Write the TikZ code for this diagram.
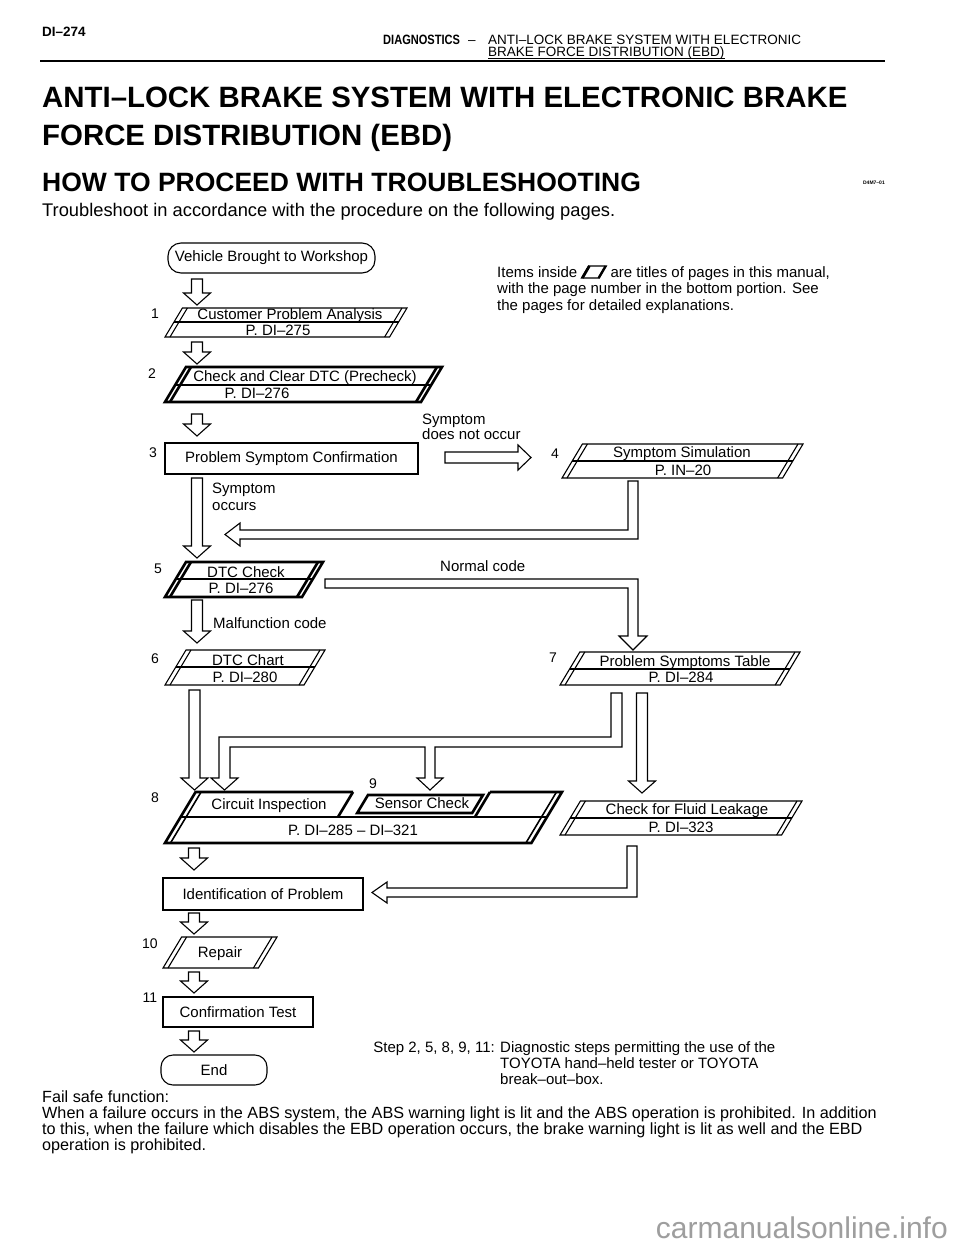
\documentclass[tikz,border=0pt]{standalone}
\usepackage{fontspec}
\usepackage{graphicx}
\setmainfont{Liberation Sans}
\usetikzlibrary{calc}
\newcommand\myfs[1]{\fontsize{#1}{#1}\selectfont}
% parallelogram: style, xl (bottom-left x), xr (top-right x), ytop, ybot
\newcommand\parabox[5]{%
  \pgfmathsetmacro\mysl{0.6*(#5-#4)}%
  \draw[#1] (#2,#5) -- ({#2+\mysl},#4) -- (#3,#4) -- ({#3-\mysl},#5) -- cycle;
  \draw[#1] ({#2+5},#5) -- ({#2+\mysl+5},#4);
  \draw[#1] ({#3-5},#4) -- ({#3-\mysl-5},#5);
}
% middle line: style, xl, xr, ytop, ybot, ymid
\newcommand\paramid[6]{%
  \draw[#1] ({#2+0.6*(#5-#6)},#6) -- ({#3-0.6*(#6-#4)},#6);
}
% hollow down arrow: x, ytop, ytip
\newcommand\dnarr[3]{%
  \draw[harrow] ({#1-5.5},#2) -- ({#1+5.5},#2) -- ({#1+5.5},{#3-12}) -- ({#1+13.5},{#3-12})
    -- (#1,#3) -- ({#1-13.5},{#3-12}) -- ({#1-5.5},{#3-12}) -- cycle;
}
\begin{document}
\begin{tikzpicture}[x=1pt,y=-1pt,
  txt/.style={inner sep=0pt, anchor=base, font=\myfs{15}},
  ltxt/.style={inner sep=0pt, anchor=base west, font=\myfs{15}},
  num/.style={inner sep=0pt, anchor=base, font=\myfs{14}},
  thinln/.style={line width=1.1pt},
  thickln/.style={line width=2.6pt},
  harrow/.style={line width=1.1pt, line join=miter},
  rbox/.style={draw, thinln, inner sep=0pt, font=\myfs{15}},
]
\fill[white] (0,0) rectangle (960,1250);
\useasboundingbox (0,0) rectangle (960,1250);

% ---------- header ----------
\node[ltxt, font=\myfs{13.5}\bfseries] (pg) at (42,36) {DI–274};
\node[ltxt, font=\myfs{13.5}\bfseries] (hdA) at (383,44) {\scalebox{0.82}[1]{DIAGNOSTICS}};
\node[ltxt, font=\myfs{13.5}] (hdD) at (468,44) {–};
\node[ltxt, font=\myfs{13.5}] (hdB) at (488,44) {ANTI–LOCK BRAKE SYSTEM WITH ELECTRONIC};
\node[ltxt, font=\myfs{13.5}] (hdC) at (488,56) {BRAKE FORCE DISTRIBUTION (EBD)};
\draw[line width=0.8pt] ([yshift=-2pt]hdC.base west) -- ([yshift=-2pt]hdC.base east);
\draw[line width=2.5pt] (40,61) -- (885,61);

\node[ltxt, font=\myfs{29.4}\bfseries] (t1) at (42,107) {ANTI–LOCK BRAKE SYSTEM WITH ELECTRONIC BRAKE};
\node[ltxt, font=\myfs{29.4}\bfseries] (t2) at (42,145) {FORCE DISTRIBUTION (EBD)};
\node[ltxt, font=\myfs{26.5}\bfseries] (t3) at (42,191) {HOW TO PROCEED WITH TROUBLESHOOTING};
\node[ltxt, font=\myfs{18.3}] (t4) at (42,216) {Troubleshoot in accordance with the procedure on the following pages.};
\node[inner sep=0pt, anchor=base east, font=\myfs{5}\bfseries] (code) at (885,184) {D4M7–01};

% ---------- note ----------
\node[ltxt] (it1) at (497,277) {Items inside};
\begin{scope}[shift={(it1.base east)}]
  \draw[thinln] (4,1) -- (11,-11) -- (29,-11) -- (22,1) -- cycle;
  \draw[line width=2.6pt] (5,1) -- (12,-11);
  \draw[line width=2pt] (28,-11) -- (21,1);
\end{scope}
\node[ltxt] (it1b) at ([xshift=33pt]it1.base east) {are titles of pages in this manual,};
\node[ltxt] (it2) at (497,293) {with the page number in the bottom portion. See};
\node[ltxt] (it3) at (497,310) {the pages for detailed explanations.};

% ---------- flow ----------
\node[rbox, rounded corners=13pt, minimum width=207pt, minimum height=30pt] (veh) at (271.5,258) {Vehicle Brought to Workshop};
\dnarr{197}{279}{305}

\node[num] (n1) at (155,318) {1};
\parabox{thinln}{165}{407}{308}{337}
\paramid{thinln}{165}{407}{308}{337}{322}
\node[txt] (b1a) at (290,319) {Customer Problem Analysis};
\node[txt] (b1b) at (278,335) {P. DI–275};
\dnarr{197}{342}{364}

\node[num] (n2) at (152,378) {2};
\parabox{thickln}{165}{442}{367}{402}
\paramid{thickln}{165}{442}{367}{402}{385}
\node[txt] (b2a) at (305,381) {Check and Clear DTC (Precheck)};
\node[txt] (b2b) at (257,398) {P. DI–276};
\dnarr{197}{414}{436}
\node[ltxt] (sn1) at (422,424) {Symptom};
\node[ltxt] (sn2) at (422,439) {does not occur};

\node[num] (n3) at (153,457) {3};
\node[rbox, minimum width=253pt, minimum height=31pt] (b3) at (291.5,458.5) {Problem Symptom Confirmation};
\draw[harrow] (445,452) -- (518,452) -- (518,445) -- (531,457.5) -- (518,470) -- (518,463) -- (445,463) -- cycle;

\node[num] (n4) at (555,458) {4};
\parabox{thinln}{562}{803}{444}{478}
\paramid{thinln}{562}{803}{444}{478}{461}
\node[txt] (b4a) at (682,457) {Symptom Simulation};
\node[txt] (b4b) at (683,475) {P. IN–20};

\dnarr{197}{478}{558}
\node[ltxt] (so1) at (212,493) {Symptom};
\node[ltxt] (so2) at (212,510) {occurs};
\draw[harrow] (628,481) -- (638,481) -- (638,539) -- (240,539) -- (240,546) -- (225,534.5)
  -- (240,523) -- (240,530) -- (628,530) -- cycle;

\node[num] (n5) at (158,573) {5};
\parabox{thickln}{165}{323}{562}{597}
\paramid{thickln}{165}{323}{562}{597}{579}
\node[txt] (b5a) at (246,577) {DTC Check};
\node[txt] (b5b) at (241,593) {P. DI–276};
\node[ltxt] (nc) at (440,571) {Normal code};
\draw[harrow] (325,579) -- (638,579) -- (638,636) -- (647,636) -- (633,650) -- (619,636)
  -- (628,636) -- (628,588) -- (325,588) -- cycle;

\dnarr{197}{600}{643}
\node[ltxt] (mc) at (213,628) {Malfunction code};

\node[num] (n6) at (155,663) {6};
\parabox{thinln}{165}{325}{650}{685}
\paramid{thinln}{165}{325}{650}{685}{667}
\node[txt] (b6a) at (248,665) {DTC Chart};
\node[txt] (b6b) at (245,682) {P. DI–280};

\node[num] (n7) at (553,662) {7};
\parabox{thinln}{560}{800}{652}{685}
\paramid{thinln}{560}{800}{652}{685}{669}
\node[txt] (b7a) at (685,666) {Problem Symptoms Table};
\node[txt] (b7b) at (681,682) {P. DI–284};

\dnarr{194.5}{690}{790}
\draw[harrow] (611,693) -- (622,693) -- (622,747) -- (435,747) -- (435,778) -- (443,778)
  -- (430,790) -- (417,778) -- (425,778) -- (425,747) -- (230,747) -- (230,778)
  -- (238,778) -- (224.5,790) -- (211,778) -- (219,778) -- (219,737) -- (611,737) -- cycle;
\dnarr{642}{693}{793}

% box 8 / 9
\node[num] (n8) at (155,802) {8};
\node[num] (n9) at (373,788) {9};
\draw[thickln] (353,792) -- (195.6,792) -- (165,843) -- (531.4,843) -- (562,792) -- (490,792);
\draw[line width=1.6pt] (170.5,843) -- (201.1,792);
\draw[line width=1.6pt] (556.5,792) -- (525.9,843);
\draw[thickln] (180.6,817) -- (547,817);
\draw[thickln] (353,792) -- (338,817);
\draw[thickln] (490,792) -- (475,817);
\draw[thickln] (357.2,813) -- (368,795) -- (483,795) -- (472.2,813) -- cycle;
\node[txt] (b8a) at (269,809) {Circuit Inspection};
\node[txt] (b9a) at (422,808) {Sensor Check};
\node[txt] (b8b) at (353,835) {P. DI–285 – DI–321};

\parabox{thinln}{560}{802}{801}{835}
\paramid{thinln}{560}{802}{801}{835}{818}
\node[txt] (bfa) at (687,814) {Check for Fluid Leakage};
\node[txt] (bfb) at (681,832) {P. DI–323};

\dnarr{194}{848}{870}
\node[rbox, minimum width=200pt, minimum height=32pt] (idp) at (263,894) {Identification of Problem};
\draw[harrow] (627,846) -- (637,846) -- (637,897) -- (387,897) -- (387,903) -- (372,892.5)
  -- (387,882) -- (387,888) -- (627,888) -- cycle;

\dnarr{194}{913}{934}
\node[num] (n10) at (150,948) {10};
\parabox{thinln}{163}{277}{937}{968}
\node[txt] (rep) at (220,957) {Repair};

\dnarr{194}{972}{993}
\node[num] (n11) at (150,1002) {11};
\node[rbox, line width=2.2pt, minimum width=150pt, minimum height=30pt] (cft) at (238,1012) {Confirmation Test};

\dnarr{194}{1031}{1052}
\node[rbox, rounded corners=12pt, minimum width=106pt, minimum height=30pt] (endn) at (214,1070) {End};

% ---------- notes ----------
\node[inner sep=0pt, anchor=base east, font=\myfs{15}] (st0) at (495,1052) {Step 2, 5, 8, 9, 11:};
\node[ltxt] (st1) at (500,1052) {Diagnostic steps permitting the use of the};
\node[ltxt] (st2) at (500,1068) {TOYOTA hand–held tester or TOYOTA};
\node[ltxt] (st3) at (500,1084) {break–out–box.};

\node[ltxt, font=\myfs{16.2}] (fs0) at (42,1102) {Fail safe function:};
\node[ltxt, font=\myfs{16.2}] (fs1) at (42,1118) {When a failure occurs in the ABS system, the ABS warning light is lit and the ABS operation is prohibited. In addition};
\node[ltxt, font=\myfs{16.2}] (fs2) at (42,1134) {to this, when the failure which disables the EBD operation occurs, the brake warning light is lit as well and the EBD};
\node[ltxt, font=\myfs{16.2}] (fs3) at (42,1150) {operation is prohibited.};

\node[inner sep=0pt, anchor=base east, font=\myfs{30}, text=black!38] (wm) at (948,1238) {carmanualsonline.info};
\end{tikzpicture}
\end{document}
